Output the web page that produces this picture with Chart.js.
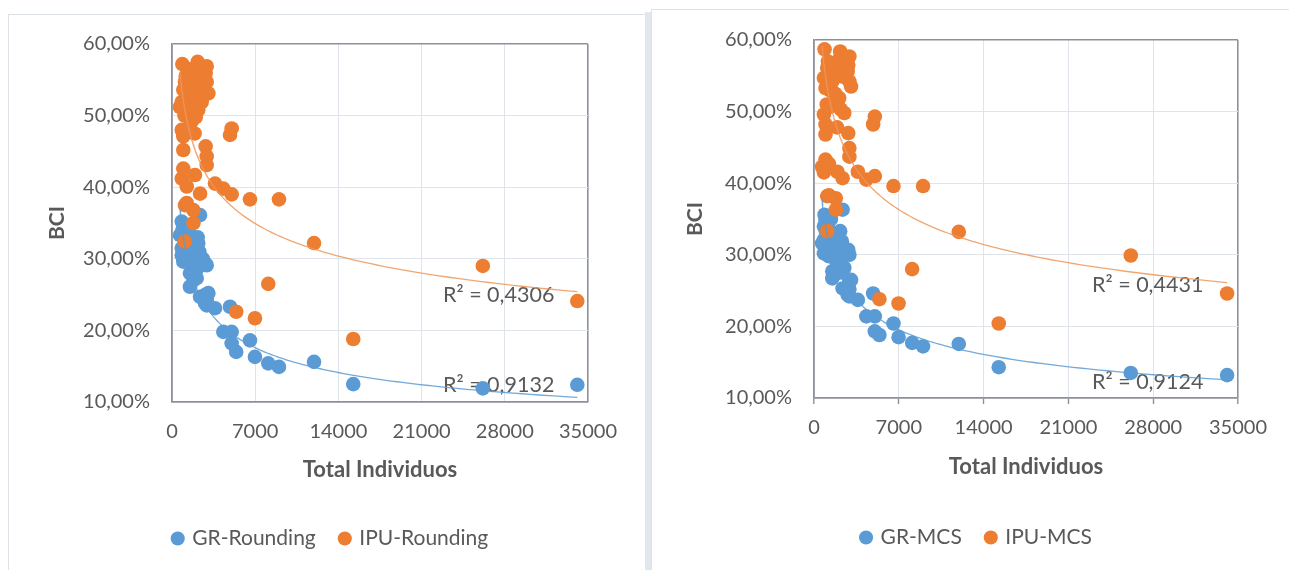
<!DOCTYPE html>
<html>
<head>
<meta charset="utf-8">
<script src="https://cdn.jsdelivr.net/npm/chart.js@4.4.1/dist/chart.umd.min.js"></script>
<style>
  html, body { margin: 0; padding: 0; background: #ffffff; }
  body { width: 1289px; height: 570px; position: relative; overflow: hidden; }
  .panel { position: absolute; border: 1px solid #dde1e8; background: #ffffff; box-sizing: border-box; }
  #panelL { left: 8px; top: 14px; width: 638px; height: 590px; }
  #gap { position: absolute; left: 645px; top: 12px; width: 6px; height: 570px; background: #e2e6ed; }
  #panelR { left: 651px; top: 9px; width: 660px; height: 590px; }
  canvas { position: absolute; top: 0; }
  #chartL { left: 8px; }
  #chartR { left: 651px; }
</style>
</head>
<body>
<div class="panel" id="panelL"></div>
<div id="gap"></div>
<div class="panel" id="panelR"></div>
<canvas id="chartL" width="637" height="570"></canvas>
<canvas id="chartR" width="638" height="570"></canvas>
<script>
// Total individuals per municipality (shared by all four series)
const totalIndividuos = [670, 820, 820, 820, 870, 950, 950, 950, 950, 1050, 1090, 1090, 1090, 1150, 1240,
  1240, 1300, 1370, 1400, 1510, 1510, 1600, 1660, 1750, 1800, 1800, 1900, 1930, 2000, 2080, 2080, 2160,
  2210, 2210, 2300, 2360, 2360, 2500, 2600, 2780, 2830, 2830, 2920, 2920, 2920, 2920, 3060, 3620, 4320,
  4880, 5020, 5020, 5400, 6560, 6980, 8100, 9000, 11950, 15250, 26150, 34100];

// BCI (%) per method
const grRounding = [33.3, 35.2, 30.5, 31.5, 34.0, 29.6, 33.8, 30.0, 31.0, 32.8, 34.3, 32.0, 29.8, 33.0, 30.8,
  30.2, 31.8, 31.5, 34.0, 28.0, 26.1, 30.5, 32.6, 31.2, 30.1, 27.0, 28.2, 29.0, 29.6, 27.3, 28.5, 33.0,
  32.2, 28.9, 31.0, 36.1, 24.7, 29.5, 30.0, 23.8, 25.0, 29.3, 29.1, 24.2, 23.5, 24.8, 25.2, 23.1, 19.8,
  23.3, 18.2, 19.8, 17.0, 18.6, 16.3, 15.4, 14.9, 15.6, 12.5, 11.9, 12.4];
const ipuRounding = [51.2, 51.9, 48.0, 41.2, 57.2, 53.6, 47.1, 45.2, 42.6, 50.0, 54.7, 37.5, 32.4, 55.5, 40.1,
  37.8, 52.0, 50.5, 56.5, 52.9, 53.8, 55.0, 49.2, 53.0, 36.8, 35.0, 47.5, 41.7, 49.8, 56.1, 51.2, 57.5,
  54.7, 50.8, 55.8, 39.1, 52.0, 51.9, 53.5, 55.0, 55.9, 45.7, 56.9, 54.7, 44.3, 43.1, 53.1, 40.5, 39.8,
  47.3, 48.2, 39.0, 22.6, 38.3, 21.7, 26.5, 38.3, 32.2, 18.8, 29.0, 24.1];
const grMCS = [31.6, 34.0, 32.1, 30.2, 35.6, 34.9, 33.5, 30.5, 31.2, 33.3, 34.3, 32.5, 30.0, 33.8, 29.8,
  30.4, 32.0, 31.0, 35.0, 27.7, 26.7, 31.5, 33.0, 32.2, 29.3, 28.0, 29.0, 29.0, 30.6, 28.6, 27.5, 33.3,
  30.7, 29.6, 31.9, 36.3, 25.3, 28.2, 30.4, 24.4, 25.6, 30.7, 30.0, 24.2, 26.5, 25.2, 26.5, 23.7, 21.4,
  24.6, 19.3, 21.4, 18.8, 20.4, 18.5, 17.7, 17.2, 17.55, 14.3, 13.5, 13.2];
const ipuMCS = [42.3, 54.7, 49.6, 41.5, 58.7, 53.3, 48.2, 46.8, 43.3, 51.0, 56.1, 38.2, 33.3, 57.0, 42.7,
  38.3, 53.0, 50.7, 56.0, 52.8, 54.2, 55.5, 51.4, 52.5, 37.9, 36.3, 47.8, 41.6, 50.8, 57.3, 51.9, 58.4,
  56.1, 50.3, 56.8, 40.7, 54.9, 49.8, 54.8, 55.6, 56.5, 47.0, 57.7, 54.2, 44.9, 43.7, 53.5, 41.6, 40.5,
  48.2, 49.3, 41.0, 23.8, 39.6, 23.2, 28.0, 39.6, 33.2, 20.4, 29.9, 24.6];

// Power trend lines y = c · x^k, as [c, k]
const trendGRRounding = [291, -0.317];
const trendIPURounding = [207, -0.201];
const trendGRMCS = [233, -0.280];
const trendIPUMCS = [229, -0.208];

// Axis ticks
const xTicks = [0, 7000, 14000, 21000, 28000, 35000];
const yTicks = [10, 20, 30, 40, 50, 60];

// Coefficients of determination shown next to the trend lines
const r2Left = ['0,4306', '0,9132'];
const r2Right = ['0,4431', '0,9124'];

const BLUE = '#5b9bd5';
const ORANGE = '#ed7d31';
const BLUE_LINE = 'rgba(91,155,213,0.85)';
const ORANGE_LINE = 'rgba(237,150,90,0.85)';
const GRID = '#dfe3ea';
const FRAME = '#8c919a';
const TEXT = '#595959';
const FONT = 'Lato, "Liberation Sans", sans-serif';

Chart.defaults.font.family = FONT;
Chart.defaults.color = TEXT;

const fmtPct = v => v.toFixed(2).replace('.', ',') + '%';
const toPoints = ys => totalIndividuos.map((x, i) => ({ x, y: ys[i] }));

// Trend curve over the observed range of total individuals
function trendCurve([c, k]) {
  const lo = Math.min(...totalIndividuos), hi = Math.max(...totalIndividuos);
  const pts = [];
  const steps = 160;
  for (let i = 0; i <= steps; i++) {
    const x = lo * Math.pow(hi / lo, i / steps);
    pts.push({ x, y: c * Math.pow(x, k) });
  }
  return pts;
}

// R² captions, anchored in data units
const r2Captions = {
  id: 'r2Captions',
  beforeDatasetsDraw(chart, args, opts) {
    const { ctx, scales } = chart;
    ctx.save();
    ctx.font = '21.5px ' + FONT;
    ctx.fillStyle = TEXT;
    ctx.textAlign = 'left';
    ctx.textBaseline = 'middle';
    opts.items.forEach(it => {
      ctx.fillText(it.text, scales.x.getPixelForValue(it.x), scales.y.getPixelForValue(it.y));
    });
    ctx.restore();
  }
};

function edgeColor(min, max) {
  return c => (c.tick && (c.tick.value === min || c.tick.value === max)) ? FRAME : GRID;
}
function edgeWidth(min, max) {
  return c => (c.tick && (c.tick.value === min || c.tick.value === max)) ? 1.6 : 1;
}

function buildChart(id, s) {
  return new Chart(document.getElementById(id), {
    type: 'scatter',
    data: {
      datasets: [
        { label: s.grLabel, data: toPoints(s.gr), backgroundColor: BLUE, borderColor: BLUE,
          borderWidth: 0, pointRadius: 7.3, pointHoverRadius: 7.3, order: 3 },
        { label: s.ipuLabel, data: toPoints(s.ipu), backgroundColor: ORANGE, borderColor: ORANGE,
          borderWidth: 0, pointRadius: 7.3, pointHoverRadius: 7.3, order: 2 },
        { type: 'line', label: 'trend-gr', data: trendCurve(s.grTrend), borderColor: BLUE_LINE,
          borderWidth: 1.3, pointRadius: 0, fill: false, tension: 0, order: 1 },
        { type: 'line', label: 'trend-ipu', data: trendCurve(s.ipuTrend), borderColor: ORANGE_LINE,
          borderWidth: 1.3, pointRadius: 0, fill: false, tension: 0, order: 0 }
      ]
    },
    options: {
      responsive: false,
      animation: false,
      devicePixelRatio: 1,
      layout: { padding: s.padding },
      plugins: {
        tooltip: { enabled: false },
        legend: {
          position: 'bottom',
          labels: {
            usePointStyle: true,
            pointStyle: 'circle',
            boxHeight: 10,
            boxWidth: 8,
            padding: 25,
            color: TEXT,
            font: { size: 21, family: FONT },
            filter: item => item.datasetIndex < 2,
            sort: (a, b) => a.datasetIndex - b.datasetIndex
          }
        },
        r2Captions: { items: s.captions }
      },
      scales: {
        x: {
          type: 'linear',
          min: xTicks[0],
          max: xTicks[xTicks.length - 1],
          afterBuildTicks: sc => { sc.ticks = xTicks.map(v => ({ value: v })); },
          afterFit: sc => { sc.height = s.xAxisHeight; },
          ticks: { callback: v => String(v), color: TEXT, font: { size: 20 }, padding: s.xTickPad, maxRotation: 0 },
          grid: { color: edgeColor(0, 35000), lineWidth: edgeWidth(0, 35000),
                  drawTicks: s.xDrawTicks, tickLength: 6, tickColor: FRAME, tickWidth: 1.4 },
          border: { display: true, color: FRAME, width: 1.6 },
          title: { display: true, text: 'Total Individuos', color: TEXT,
                   font: { size: 22, weight: 'bold' }, padding: { top: 0, bottom: s.xTitlePad } }
        },
        y: {
          type: 'linear',
          min: yTicks[0],
          max: yTicks[yTicks.length - 1],
          afterBuildTicks: sc => { sc.ticks = yTicks.map(v => ({ value: v })); },
          afterFit: sc => { sc.width = s.yAxisWidth; },
          ticks: { callback: v => fmtPct(v), color: TEXT, font: { size: 20 }, padding: 22 },
          grid: { color: edgeColor(10, 60), lineWidth: edgeWidth(10, 60), drawTicks: false },
          border: { display: true, color: FRAME, width: 1.6 },
          title: { display: true, text: 'BCI', color: TEXT,
                   font: { size: 21, weight: 'bold' }, padding: { top: s.yTitlePad, bottom: 0 } }
        }
      }
    },
    plugins: [r2Captions]
  });
}

buildChart('chartL', {
  gr: grRounding, ipu: ipuRounding,
  grTrend: trendGRRounding, ipuTrend: trendIPURounding,
  grLabel: 'GR-Rounding', ipuLabel: 'IPU-Rounding',
  padding: { left: 66, right: 57, top: 44, bottom: 11 },
  yAxisWidth: 98, xAxisHeight: 101, xTickPad: 18, xDrawTicks: false,
  xTitlePad: 20, yTitlePad: -29,
  captions: [
    { text: 'R² = ' + r2Left[0], x: 22800, y: 24.9 },
    { text: 'R² = ' + r2Left[1], x: 22800, y: 12.4 }
  ]
});

buildChart('chartR', {
  gr: grMCS, ipu: ipuMCS,
  grTrend: trendGRMCS, ipuTrend: trendIPUMCS,
  grLabel: 'GR-MCS', ipuLabel: 'IPU-MCS',
  padding: { left: 65, right: 51, top: 40, bottom: 12 },
  yAxisWidth: 98, xAxisHeight: 104, xTickPad: 12, xDrawTicks: true,
  xTitlePad: 22, yTitlePad: -33,
  captions: [
    { text: 'R² = ' + r2Right[0], x: 22950, y: 25.8 },
    { text: 'R² = ' + r2Right[1], x: 22950, y: 12.2 }
  ]
});
</script>
</body>
</html>
